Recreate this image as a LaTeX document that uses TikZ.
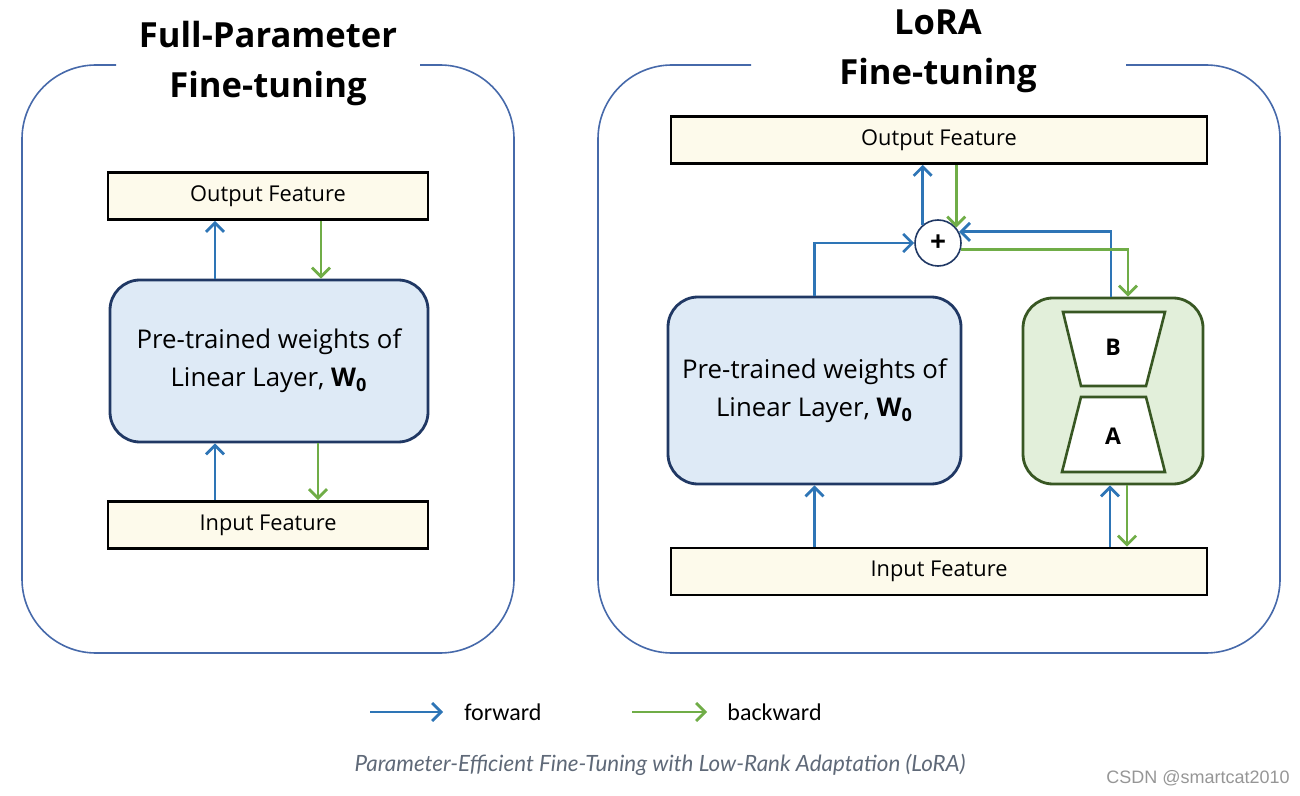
\documentclass[tikz,border=0pt]{standalone}
\usepackage{fontspec}
\setmainfont{Open Sans}
\newfontfamily\legendfont{Carlito}
\newfontfamily\captionfont{Lato}
\newfontfamily\markfont{Liberation Sans}
\usetikzlibrary{arrows.meta}

\definecolor{panelblue}{RGB}{70,105,170}
\definecolor{featfill}{RGB}{253,250,235}
\definecolor{wfill}{RGB}{222,234,246}
\definecolor{wdraw}{RGB}{32,56,100}
\definecolor{lorafill}{RGB}{226,239,218}
\definecolor{loradraw}{RGB}{56,87,35}
\definecolor{fwdblue}{RGB}{46,117,182}
\definecolor{bwdgreen}{RGB}{112,173,71}
\definecolor{capgray}{RGB}{95,105,120}
\definecolor{markgray}{RGB}{150,150,150}

\begin{document}
\begin{tikzpicture}[x=0.5pt, y=-0.5pt,
	panel/.style={draw=panelblue, line width=0.8pt, rounded corners=37pt},
	title/.style={font=\bfseries\fontsize{17.3}{25}\selectfont, align=center},
	feat/.style={draw=black, line width=1.3pt, fill=featfill, minimum height=23.5pt, inner sep=0pt, font=\fontsize{10.9}{12}\selectfont},
	weights/.style={draw=wdraw, line width=1.4pt, fill=wfill, rounded corners=15pt, align=center, inner sep=0pt, font=\fontsize{12.9}{19}\selectfont},
	lorabox/.style={draw=loradraw, line width=1.4pt, fill=lorafill, rounded corners=15pt, minimum width=90pt, minimum height=93pt},
	trap/.style={draw=loradraw, line width=1.3pt, fill=white},
	sumnode/.style={circle, draw=wdraw, line width=0.8pt, fill=white, minimum size=23pt, inner sep=0pt, font=\bfseries\fontsize{14}{14}\selectfont},
	fwd/.style={draw=fwdblue, line width=1.4pt, -{Straight Barb[length=4.5pt,width=9pt]}},
	bwd/.style={draw=bwdgreen, line width=1.4pt, -{Straight Barb[length=4.5pt,width=9pt]}}]
	\useasboundingbox (0,0) rectangle (1300,796);

	% full-parameter fine-tuning
	\draw [panel] (116,65) -- (22,65) -- (22,653) -- (514,653) -- (514,65) -- (420,65);
	\node [title] (t1) at (268,64) {Full-Parameter\\Fine-tuning};
	\node [feat, minimum width=160pt] (lo) at (268,196) {Output Feature};
	\node [weights, minimum width=159pt, minimum height=81pt] (lw) at (269,361) {Pre-trained weights of\\Linear Layer, \textbf{W}\textsubscript{\textbf{0}}};
	\node [feat, minimum width=160pt] (li) at (268,525) {Input Feature};
	\draw [fwd] ([xshift=-27pt]lw.north) -- ([xshift=-27pt]lw.north |- lo.south);
	\draw [bwd] ([xshift=26pt]lw.north |- lo.south) -- ([xshift=26pt]lw.north);
	\draw [fwd] ([xshift=-27pt]lw.south |- li.north) -- ([xshift=-27pt]lw.south);
	\draw [bwd] ([xshift=24.5pt]lw.south) -- ([xshift=24.5pt]lw.south |- li.north);

	% lora fine-tuning
	\draw [panel] (751,65) -- (598,65) -- (598,653) -- (1280,653) -- (1280,65) -- (1126,65);
	\node [title] (t2) at (938,51) {LoRA\\Fine-tuning};
	\node [feat, minimum width=268pt] (ro) at (939,140) {Output Feature};
	\node [weights, minimum width=146.5pt, minimum height=93.5pt] (rw) at (814.5,390.5) {Pre-trained weights of\\Linear Layer, \textbf{W}\textsubscript{\textbf{0}}};
	\node [lorabox] (lora) at (1113,391) {};
	\draw [trap] (1063,312) -- (1165,312) -- (1146,386) -- (1081,386) -- cycle;
	\draw [trap] (1081,397) -- (1146,397) -- (1165,472) -- (1062,472) -- cycle;
	\node [font=\bfseries\fontsize{11.5}{12}\selectfont] (B) at (1113,347) {B};
	\node [font=\bfseries\fontsize{11.5}{12}\selectfont] (A) at (1113,436) {A};
	\node [feat, minimum width=268pt] (ri) at (939,571.5) {Input Feature};
	\node [sumnode] (plus) at (938,243) {+};
	\draw [fwd] (rw.north) |- (plus.west);
	\draw [fwd] (plus.130) -- (plus.130 |- ro.south);
	\draw [bwd] (plus.40 |- ro.south) -- (plus.40);
	\draw [fwd] ([xshift=-1pt]lora.north) |- (plus.28);
	\draw [bwd] (plus.-15) -| ([xshift=7.5pt]lora.north);
	\draw [fwd] (rw.south |- ri.north) -- (rw.south);
	\draw [fwd] ([xshift=-1.5pt]lora.south |- ri.north) -- ([xshift=-1.5pt]lora.south);
	\draw [bwd] ([xshift=7pt]lora.south) -- ([xshift=7pt]lora.south |- ri.north);

	% legend
	\coordinate (fa) at (370,712);
	\coordinate (fb) at (443,712);
	\coordinate (ba) at (632,712);
	\coordinate (bb) at (707,712);
	\draw [fwd] (fa) -- (fb);
	\draw [bwd] (ba) -- (bb);
	\node [anchor=west, inner sep=0pt, font=\legendfont\fontsize{12}{12}\selectfont] (fl) at (464,712) {forward};
	\node [anchor=west, inner sep=0pt, font=\legendfont\fontsize{12}{12}\selectfont] (bl) at (727,712) {backward};

	\node [font=\captionfont\itshape\fontsize{11.2}{12}\selectfont, text=capgray] (cap) at (660,765) {Parameter-Efficient Fine-Tuning with Low-Rank Adaptation (LoRA)};
	\node [anchor=east, inner sep=0pt, font=\markfont\fontsize{9}{10}\selectfont, text=markgray] (mark) at (1290,778) {CSDN @smartcat2010};
\end{tikzpicture}
\end{document}
